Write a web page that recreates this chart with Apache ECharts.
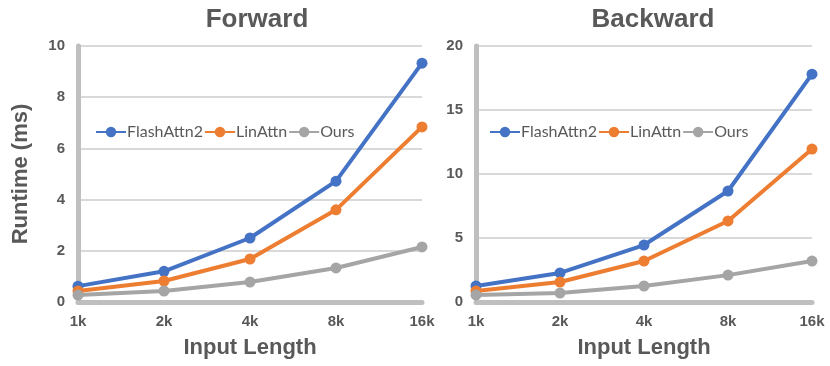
<!DOCTYPE html>
<html>
<head>
<meta charset="utf-8">
<script src="https://cdn.jsdelivr.net/npm/echarts@6/dist/echarts.min.js"></script>
<style>
  html, body { margin: 0; padding: 0; background: #fff; }
  #chart { width: 830px; height: 366px; }
</style>
</head>
<body>
<div id="chart"></div>
<script>
// 数据
var lengths = ['1k', '2k', '4k', '8k', '16k']
var seriesNames = ['FlashAttn2', 'LinAttn', 'Ours']

var fwdFlash = [0.62, 1.2, 2.5, 4.72, 9.33]
var fwdLin = [0.43, 0.82, 1.68, 3.6, 6.84]
var fwdOurs = [0.27, 0.43, 0.78, 1.33, 2.15]

var bwdFlash = [1.25, 2.27, 4.45, 8.67, 17.8]
var bwdLin = [0.86, 1.56, 3.2, 6.33, 11.95]
var bwdOurs = [0.55, 0.7, 1.25, 2.1, 3.2]

var colors = ['#4472C4', '#ED7D31', '#A5A5A5']
var textColor = '#595959'
var boldFont = '"Liberation Sans", Arial, sans-serif'
var legendFont = 'Lato, "Open Sans", sans-serif'

function xAxisFor(idx) {
  return {
    type: 'category',
    gridIndex: idx,
    data: lengths,
    boundaryGap: false,
    axisLine: { lineStyle: { color: '#BFBFBF', width: 5 } },
    axisTick: { show: false },
    axisLabel: { color: textColor, fontSize: 15, fontWeight: 'bold', fontFamily: boldFont, margin: 12 },
    name: 'Input Length',
    nameLocation: 'middle',
    nameGap: 35,
    nameTextStyle: { color: textColor, fontSize: 22, fontWeight: 'bold', fontFamily: boldFont }
  }
}

function yAxisFor(idx, max, interval, withName) {
  return {
    type: 'value',
    gridIndex: idx,
    min: 0,
    max: max,
    interval: interval,
    axisLine: { show: true, lineStyle: { color: '#BFBFBF', width: 5 } },
    axisTick: { show: false },
    splitLine: { lineStyle: { color: '#D9D9D9', width: 2 } },
    axisLabel: { color: textColor, fontSize: 15, fontWeight: 'bold', fontFamily: boldFont, margin: 13 },
    name: withName ? 'Runtime (ms)' : '',
    nameLocation: 'middle',
    nameGap: 46,
    nameTextStyle: { color: textColor, fontSize: 22, fontWeight: 'bold', fontFamily: boldFont }
  }
}

function lineSeries(name, data, i, gi) {
  return {
    name: name,
    type: 'line',
    xAxisIndex: gi,
    yAxisIndex: gi,
    data: data,
    symbol: 'circle',
    symbolSize: 11,
    itemStyle: { color: colors[i] },
    lineStyle: { color: colors[i], width: 4 },
    emphasis: { disabled: true }
  }
}

function legendFor(left) {
  return {
    left: left,
    top: 119,
    itemWidth: 30,
    itemHeight: 13,
    itemGap: 1,
    textStyle: { color: textColor, fontSize: 16, fontFamily: legendFont, padding: [0, 0, 0, -4] },
    data: seriesNames
  }
}

var chart = echarts.init(document.getElementById('chart'))
var option = {
  animation: false,
  title: [
    { text: 'Forward', left: 252, top: 2, textAlign: 'center',
      textStyle: { color: textColor, fontSize: 26, fontWeight: 'bold', fontFamily: boldFont } },
    { text: 'Backward', left: 648, top: 2, textAlign: 'center',
      textStyle: { color: textColor, fontSize: 26, fontWeight: 'bold', fontFamily: boldFont } }
  ],
  legend: [legendFor(90), legendFor(484)],
  grid: [
    { left: 78, right: 408, top: 46, bottom: 64, outerBoundsMode: 'none' },
    { left: 476, right: 18, top: 46, bottom: 64, outerBoundsMode: 'none' }
  ],
  xAxis: [xAxisFor(0), xAxisFor(1)],
  yAxis: [yAxisFor(0, 10, 2, true), yAxisFor(1, 20, 5, false)],
  series: [
    lineSeries('FlashAttn2', fwdFlash, 0, 0),
    lineSeries('LinAttn', fwdLin, 1, 0),
    lineSeries('Ours', fwdOurs, 2, 0),
    lineSeries('FlashAttn2', bwdFlash, 0, 1),
    lineSeries('LinAttn', bwdLin, 1, 1),
    lineSeries('Ours', bwdOurs, 2, 1)
  ]
}

chart.setOption(option)
</script>
</body>
</html>
